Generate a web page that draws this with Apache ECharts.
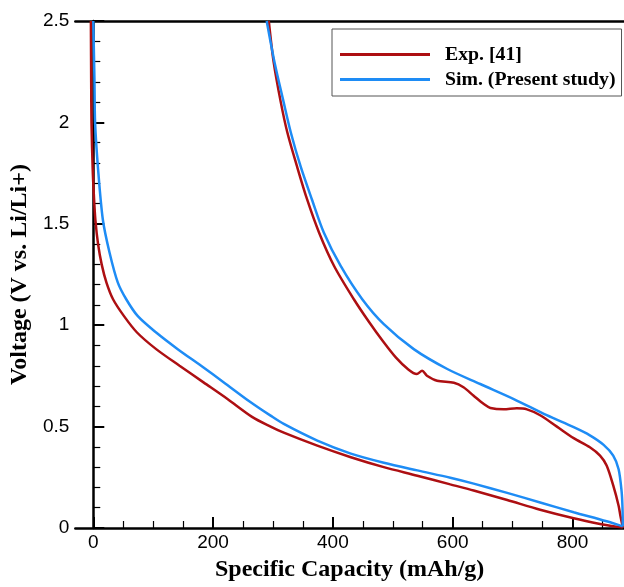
<!DOCTYPE html>
<html>
<head>
<meta charset="utf-8">
<script src="https://cdn.jsdelivr.net/npm/echarts@6/dist/echarts.min.js"></script>
<style>
    html, body { margin: 0; padding: 0; background: #fff; }
    #voltageChart { width: 624px; height: 587px; }
</style>
</head>
<body>
<div id="voltageChart"></div>
<script>
// values: capacity (mAh/g) and voltage (V)
var expDischargeCap = [-4, -3.5, -3, -1, 1, 3.5, 8, 14, 22, 33, 51, 73, 105, 144, 184, 224, 265, 296, 318, 374, 430, 485, 541, 596, 635, 691, 746, 802, 846, 868, 884];
var expDischargeV = [2.5, 2.2, 2.0, 1.77, 1.64, 1.52, 1.40, 1.30, 1.21, 1.128, 1.046, 0.964, 0.882, 0.80, 0.718, 0.636, 0.548, 0.50, 0.47, 0.406, 0.349, 0.30, 0.258, 0.215, 0.185, 0.138, 0.09, 0.048, 0.02, 0.009, 0.003];

var expChargeCap = [884, 880, 877, 868, 857, 846, 829, 802, 774, 746, 724, 707, 685, 663, 652, 635, 618, 602, 574, 557, 549, 540, 525, 505, 483, 461, 435, 402, 377, 357, 340, 324, 313, 301, 293];
var expChargeV = [0.003, 0.06, 0.11, 0.21, 0.308, 0.357, 0.398, 0.443, 0.50, 0.556, 0.585, 0.59, 0.585, 0.592, 0.611, 0.652, 0.694, 0.716, 0.726, 0.751, 0.775, 0.759, 0.784, 0.841, 0.923, 1.013, 1.128, 1.292, 1.456, 1.62, 1.784, 1.95, 2.1, 2.3, 2.5];

var simDischargeCap = [0, 2, 3, 8, 16, 27, 41, 55, 74, 105, 141, 180, 218, 261, 296, 318, 374, 430, 485, 541, 596, 635, 691, 746, 802, 857, 884];
var simDischargeV = [2.5, 2.2, 2.0, 1.77, 1.52, 1.36, 1.21, 1.128, 1.046, 0.964, 0.882, 0.80, 0.718, 0.624, 0.554, 0.513, 0.431, 0.367, 0.322, 0.284, 0.248, 0.219, 0.173, 0.126, 0.078, 0.033, 0.008];

var simChargeCap = [884, 883.5, 882, 877, 868, 852, 829, 802, 757, 702, 646, 591, 535, 485, 449, 413, 385, 365, 346, 330, 317, 303, 289.5];
var simChargeV = [0.008, 0.1, 0.18, 0.29, 0.357, 0.41, 0.457, 0.497, 0.556, 0.636, 0.71, 0.784, 0.882, 1.005, 1.128, 1.292, 1.456, 1.62, 1.784, 1.948, 2.11, 2.29, 2.5];

var xMajorTicks = [0, 200, 400, 600, 800];
var xMinorTicks = [50, 100, 150, 250, 300, 350, 450, 500, 550, 650, 700, 750, 850];

var expName = 'Exp. [41]';
var simName = 'Sim. (Present study)';

var chart;

function pairUp(xs, ys) {
    var out = [];
    for (var i = 0; i < xs.length; i++) {
        out.push([xs[i], ys[i]]);
    }
    return out;
}

function curve(name, color, xs, ys) {
    return {
        name: name,
        type: 'line',
        data: pairUp(xs, ys),
        showSymbol: false,
        smooth: 0.3,
        lineStyle: { color: color, width: 2.5 },
        itemStyle: { color: color }
    };
}

function initChart() {
    chart = echarts.init(document.getElementById('voltageChart'));
    var red = '#AD0F12', blue = '#1E8CF5';
    var serif = '"Liberation Serif", "Times New Roman", serif';
    var sans = '"Liberation Sans", Arial, sans-serif';

    var option = {
        animation: false,
        backgroundColor: '#fff',
        grid: { left: 74, right: 0, top: 21, bottom: 58 },
        legend: {
            orient: 'vertical',
            left: 332,
            top: 29,
            data: [expName, simName],
            selectedMode: false,
            icon: 'rect',
            itemWidth: 90,
            itemHeight: 3,
            itemGap: 0,
            borderColor: '#555',
            borderWidth: 1,
            padding: [13, 6, 4, 8],
            textStyle: {
                fontFamily: serif,
                fontWeight: 'bold',
                fontSize: 19.8,
                color: '#000',
                lineHeight: 25,
                padding: [0, 0, 0, 10]
            }
        },
        xAxis: [
            {
                type: 'value',
                min: -30,
                max: 886,
                position: 'bottom',
                name: 'Specific Capacity (mAh/g)',
                nameLocation: 'middle',
                nameGap: 30,
                nameTextStyle: { fontFamily: serif, fontWeight: 'bold', fontSize: 24, color: '#000' },
                axisLine: { lineStyle: { color: '#000', width: 2.5 } },
                axisTick: { inside: true, length: 11, customValues: xMajorTicks, lineStyle: { color: '#000', width: 2 } },
                axisLabel: { customValues: xMajorTicks, fontFamily: sans, fontSize: 19, color: '#000', margin: 5 },
                splitLine: { show: false }
            },
            {
                type: 'value',
                min: -30,
                max: 886,
                position: 'bottom',
                axisLine: { show: false },
                axisTick: { inside: true, length: 7, customValues: xMinorTicks, lineStyle: { color: '#000', width: 1.2 } },
                axisLabel: { show: false },
                splitLine: { show: false }
            },
            {
                type: 'value',
                min: -30,
                max: 886,
                position: 'top',
                axisLine: { lineStyle: { color: '#000', width: 2.5 } },
                axisTick: { show: false },
                axisLabel: { show: false },
                splitLine: { show: false }
            }
        ],
        yAxis: {
            type: 'value',
            min: 0,
            max: 2.5,
            interval: 0.5,
            name: 'Voltage (V vs. Li/Li+)',
            nameLocation: 'middle',
            nameGap: 43,
            nameTextStyle: { fontFamily: serif, fontWeight: 'bold', fontSize: 24, color: '#000' },
            axisLine: { show: true, lineStyle: { color: '#000', width: 2.5 } },
            axisTick: { show: true, inside: true, length: 11, lineStyle: { color: '#000', width: 2 } },
            minorTick: { show: true, splitNumber: 5, length: 7, lineStyle: { color: '#000', width: 1.2 } },
            axisLabel: { fontFamily: sans, fontSize: 19, color: '#000', margin: 6 },
            splitLine: { show: false }
        },
        series: [
            curve(expName, red, expDischargeCap, expDischargeV),
            curve(expName, red, expChargeCap, expChargeV),
            curve(simName, blue, simDischargeCap, simDischargeV),
            curve(simName, blue, simChargeCap, simChargeV)
        ]
    };
    chart.setOption(option);
}

initChart();
</script>
</body>
</html>
